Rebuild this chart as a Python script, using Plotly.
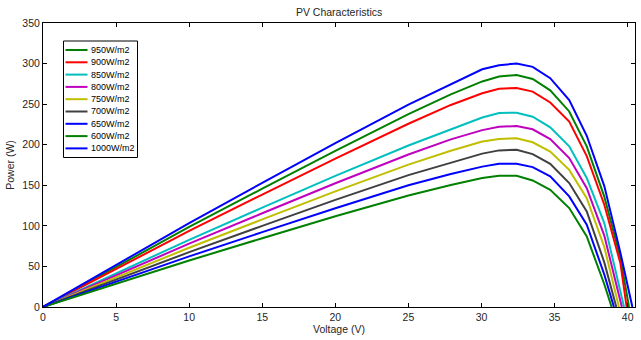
import plotly.graph_objects as go

# ---------------- data ----------------
voltage = [0, 5, 10, 15, 20, 25, 27.9, 30.05, 31.2, 32.4, 33.5, 34.7, 36.0, 37.2, 38.4]

labels = ["950W/m2", "900W/m2", "850W/m2", "800W/m2", "750W/m2",
          "700W/m2", "650W/m2", "600W/m2", "1000W/m2"]

p_950 = [0, 49.6, 98.6, 145.8, 192.5, 237.8, 262, 278, 284, 286, 281, 267, 241, 198, 136]
p_900 = [0, 47, 93.7, 138.5, 182.8, 225.8, 249, 263.5, 269, 270, 265.5, 252, 228.5, 186, 126]
p_850 = [0, 41.6, 82.8, 122.4, 161.6, 199, 219, 233.5, 239, 239.5, 234.5, 221.5, 198, 159, 103.5]
p_800 = [0, 39.2, 78.1, 115.5, 152.5, 188, 206.6, 218, 222, 223, 219, 207, 183.5, 146.5, 88]
p_750 = [0, 36.7, 73, 108, 142.5, 175.5, 192.6, 204, 207, 208, 203, 191.6, 169, 134, 74]
p_700 = [0, 33.9, 67.6, 100, 132, 162.5, 178, 189, 193, 193.7, 188.4, 176.5, 152.8, 117.8, 55]
p_650 = [0, 31.3, 62.4, 92.3, 121.7, 150, 164, 173, 176.5, 176.5, 172.4, 161, 136.3, 101.5, 40]
p_600 = [0, 28.8, 57.3, 84.8, 111.8, 137.5, 150.4, 159, 161.7, 161.7, 156, 144.5, 122, 87, 28]
p_1000 = [0, 52, 103.5, 153, 202, 249.5, 275, 293, 298, 300, 296, 282, 255, 211, 149]

# tails down to open-circuit voltage
tail_v_950, tail_p_950 = [39.5, 40.09], [61, 0]
tail_v_900, tail_p_900 = [39.5, 39.93], [54, 0]
tail_v_850, tail_p_850 = [39.75], [0]
tail_v_800, tail_p_800 = [39.6], [0]
tail_v_750, tail_p_750 = [39.4], [0]
tail_v_700, tail_p_700 = [39.22], [0]
tail_v_650, tail_p_650 = [39.06], [0]
tail_v_600, tail_p_600 = [38.9], [0]
tail_v_1000, tail_p_1000 = [39.5, 40.32], [67, 0]

x_ticks = [0, 5, 10, 15, 20, 25, 30, 35, 40]
y_ticks = [0, 50, 100, 150, 200, 250, 300, 350]

# ---------------- style ----------------
colors = ["#008000", "#FF0000", "#00BFBF", "#BF00BF", "#BFBF00",
          "#404040", "#0000FF", "#008000", "#0000FF"]
FONT = "Liberation Sans, Arial, Helvetica, sans-serif"

series = [
    (p_950, tail_v_950, tail_p_950),
    (p_900, tail_v_900, tail_p_900),
    (p_850, tail_v_850, tail_p_850),
    (p_800, tail_v_800, tail_p_800),
    (p_750, tail_v_750, tail_p_750),
    (p_700, tail_v_700, tail_p_700),
    (p_650, tail_v_650, tail_p_650),
    (p_600, tail_v_600, tail_p_600),
    (p_1000, tail_v_1000, tail_p_1000),
]

fig = go.Figure()
for (p, tv, tp), name, c in zip(series, labels, colors):
    fig.add_trace(go.Scatter(
        x=voltage + tv, y=p + tp, mode="lines", name=name,
        line=dict(color=c, width=2), showlegend=False, cliponaxis=True))

W, H = 641, 340
L, R, T, B = 43, 6, 23, 33
pw, ph = W - L - R, H - T - B


def px_x(x):
    return (x - L) / pw


def px_y(y):
    return (H - B - y) / ph


# manual legend (compact MATLAB style)
shapes = [dict(type="rect", xref="paper", yref="paper",
               x0=px_x(63.5), x1=px_x(137.5), y0=px_y(157.5), y1=px_y(41),
               line=dict(color="black", width=1), fillcolor="white", layer="above")]
annotations = []
for i, (name, c) in enumerate(zip(labels, colors)):
    yc = 50 + i * 12.3
    shapes.append(dict(type="line", xref="paper", yref="paper",
                       x0=px_x(65.5), x1=px_x(87.5), y0=px_y(yc), y1=px_y(yc),
                       line=dict(color=c, width=2), layer="above"))
    annotations.append(dict(xref="paper", yref="paper", x=px_x(89), y=px_y(yc),
                            text=name, showarrow=False, xanchor="left",
                            yanchor="middle", font=dict(size=9, color="black", family=FONT)))

axis_common = dict(
    showgrid=False, zeroline=False, showline=True, linecolor="black", linewidth=1,
    mirror="ticks", ticks="inside", ticklen=4, tickcolor="black", tickwidth=1,
    tickfont=dict(size=10.5, color="#262626", family=FONT),
)

fig.update_layout(
    width=W, height=H,
    margin=dict(l=L, r=R, t=T, b=B, pad=0),
    paper_bgcolor="white", plot_bgcolor="white",
    font=dict(family=FONT, color="#262626"),
    title=dict(text="PV Characteristics", x=0.529, xref="container", xanchor="center",
               y=1 - 12 / H, yref="container", yanchor="middle",
               font=dict(size=10.5, color="#262626", family=FONT)),
    xaxis=dict(range=[0, 40.5], tickvals=x_ticks, ticktext=[str(v) for v in x_ticks],
               title=dict(text="Voltage (V)", standoff=2, font=dict(size=10.5, family=FONT)),
               **axis_common),
    yaxis=dict(range=[0, 350], tickvals=y_ticks, ticktext=[str(v) for v in y_ticks],
               title=dict(text="Power (W)", standoff=5, font=dict(size=10.5, family=FONT)),
               **axis_common),
    shapes=shapes, annotations=annotations, showlegend=False,
)

fig.write_html("out.html")
